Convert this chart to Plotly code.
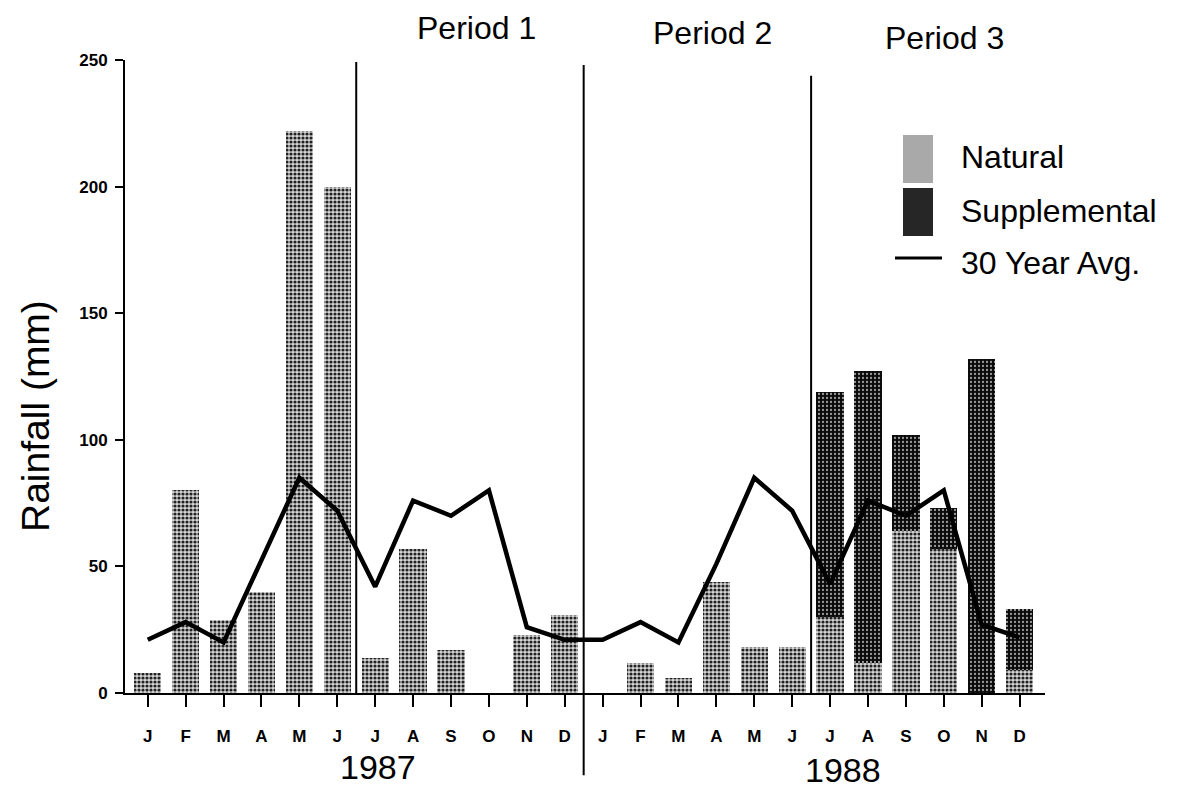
import plotly.graph_objects as go

# ---- data ----
months = ["J", "F", "M", "A", "M", "J", "J", "A", "S", "O", "N", "D"]
years = ["1987", "1988"]
natural_1987 = [8, 80, 29, 40, 222, 200, 14, 57, 17, 0, 23, 31]
natural_1988 = [0, 12, 6, 44, 18, 18, 30, 12, 64, 57, 0, 9]
supplemental_1987 = [0, 0, 0, 0, 0, 0, 0, 0, 0, 0, 0, 0]
supplemental_1988 = [0, 0, 0, 0, 0, 0, 89, 115, 38, 16, 132, 24]
avg_1987 = [21, 28, 20, 52, 85, 72, 42, 76, 70, 80, 26, 21]
avg_1988 = [21, 28, 20, 51, 85, 72, 43, 76, 70, 80, 27, 22]
period_labels = ["Period 1", "Period 2", "Period 3"]
period_bounds = [5.5, 11.5, 17.5]          # month-index boundaries between periods
period_label_pos = [8.68, 14.9, 21.03]
y_ticks = [0, 50, 100, 150, 200, 250]

x_idx = list(range(24))
tick_text = months + months
natural = natural_1987 + natural_1988
supplemental = supplemental_1987 + supplemental_1988
avg = avg_1987 + avg_1988

FONT = "Liberation Sans, Arial, Helvetica, sans-serif"

fig = go.Figure()
fig.add_bar(
    x=x_idx, y=natural, name="Natural", width=0.72,
    marker=dict(
        color="#a8a8a8", line=dict(width=0),
        pattern=dict(shape=".", bgcolor="#d4d4d4", fgcolor="#222222",
                     size=4, solidity=0.5, fillmode="replace"),
    ),
)
fig.add_bar(
    x=x_idx, y=supplemental, name="Supplemental", width=0.72,
    marker=dict(
        color="#222222", line=dict(width=0),
        pattern=dict(shape=".", bgcolor="#0a0a0a", fgcolor="#9a9a9a",
                     size=4, solidity=0.25, fillmode="replace"),
    ),
)
fig.add_scatter(
    x=x_idx, y=avg, mode="lines", name="30 Year Avg.",
    line=dict(color="black", width=4.5),
)

# period separator lines
shapes = []
for i, xb in enumerate(period_bounds):
    y0 = -0.13 if i == 1 else 0
    y1 = 0.997 if i == 0 else (0.992 if i == 1 else 0.975)
    shapes.append(dict(type="line", xref="x", yref="paper", x0=xb, x1=xb,
                       y0=y0, y1=y1, line=dict(color="black", width=2)))

# manual legend (paper coordinates)
def px_x(px):
    return (px - 125) / 920

def px_y(py):
    return (693 - py) / 633

shapes.append(dict(type="rect", xref="paper", yref="paper",
                   x0=px_x(903), x1=px_x(933), y0=px_y(183), y1=px_y(135),
                   fillcolor="#a9a9a9", line=dict(width=0)))
shapes.append(dict(type="rect", xref="paper", yref="paper",
                   x0=px_x(903), x1=px_x(933), y0=px_y(236), y1=px_y(188),
                   fillcolor="#262626", line=dict(width=0)))
shapes.append(dict(type="line", xref="paper", yref="paper",
                   x0=px_x(895), x1=px_x(942), y0=px_y(258), y1=px_y(258),
                   line=dict(color="black", width=3)))

annotations = []
legend_names = ["Natural", "Supplemental", "30 Year Avg."]
legend_y = [157, 211, 263]
for name, ly in zip(legend_names, legend_y):
    annotations.append(dict(text=name, xref="paper", yref="paper",
                            x=px_x(959), y=px_y(ly), xanchor="left", yanchor="middle",
                            showarrow=False, font=dict(family=FONT, size=32, color="black")))

period_y = [28, 33, 38]
for lab, xp, py in zip(period_labels, period_label_pos, period_y):
    annotations.append(dict(text=lab, xref="x", yref="paper", x=xp, y=px_y(py),
                            xanchor="center", yanchor="middle", showarrow=False,
                            font=dict(family=FONT, size=32, color="black")))

year_pos = [6.07, 18.34]
year_py = [767, 770]
for yr, xp, py in zip(years, year_pos, year_py):
    annotations.append(dict(text=yr, xref="x", yref="paper", x=xp, y=px_y(py),
                            xanchor="center", yanchor="middle", showarrow=False,
                            font=dict(family=FONT, size=34, color="black")))

annotations.append(dict(text="Rainfall (mm)", xref="paper", yref="paper",
                        x=px_x(35), y=px_y(416), xanchor="center", yanchor="middle",
                        textangle=-90, showarrow=False,
                        font=dict(family=FONT, size=39, color="black")))

fig.update_layout(
    width=1178, height=792,
    margin=dict(l=125, r=133, t=60, b=99),
    paper_bgcolor="white", plot_bgcolor="white",
    barmode="stack", showlegend=False,
    shapes=shapes, annotations=annotations,
    font=dict(family=FONT, color="black"),
    xaxis=dict(
        range=[-0.6, 23.67], tickmode="array", tickvals=x_idx, ticktext=tick_text,
        ticks="outside", ticklen=12, tickwidth=2, tickcolor="black",
        showline=True, linecolor="black", linewidth=2,
        showgrid=False, zeroline=False,
        tickfont=dict(family=FONT, size=17, weight="bold", color="black"),
        ticklabelstandoff=15,
    ),
    yaxis=dict(
        range=[0, 250], tickmode="array", tickvals=y_ticks,
        ticks="outside", ticklen=8, tickwidth=2, tickcolor="black",
        showline=True, linecolor="black", linewidth=2,
        showgrid=False, zeroline=False,
        tickfont=dict(family=FONT, size=17, weight="bold", color="black"),
        ticklabelstandoff=4,
    ),
)

fig.write_html(
    "out.html",
    config={"displayModeBar": False},
    post_script="document.body.style.margin='0';document.body.style.overflow='hidden';",
)
